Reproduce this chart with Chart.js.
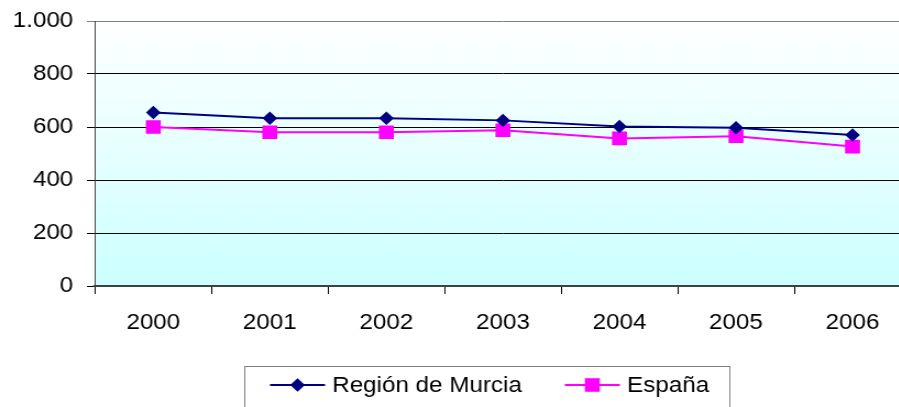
<!DOCTYPE html>
<html>
<head>
<meta charset="utf-8">
<script src="https://cdn.jsdelivr.net/npm/chart.js@4/dist/chart.umd.min.js"></script>
<style>
html,body{margin:0;padding:0;overflow:hidden;background:#fff;width:899px;height:407px;}
#wrap{width:829px;height:407px;position:relative;transform:scaleX(1.1);transform-origin:0 0;}
</style>
</head>
<body>
<div id="wrap"><canvas id="c" width="829" height="407"></canvas></div>
<script>
const categories = ['2000','2001','2002','2003','2004','2005','2006'];
const murcia = [655, 633, 633, 625, 602, 597, 570];
const espana = [600, 580, 580, 588, 557, 565, 526];
const seriesNames = ['Región de Murcia', 'España'];
const yTicks = [0, 200, 400, 600, 800, 1000];
const yTickLabels = ['0', '200', '400', '600', '800', '1.000'];

const FONT = '"Liberation Sans", Arial, sans-serif';

const bgPlugin = {
  id: 'bg',
  beforeDraw(chart) {
    const {ctx, chartArea: a} = chart;
    const g = ctx.createLinearGradient(0, a.top, 0, a.bottom);
    g.addColorStop(0, '#FFFFFF');
    g.addColorStop(1, '#CCFFFF');
    ctx.save();
    ctx.fillStyle = g;
    ctx.fillRect(a.left, a.top, a.right - a.left, a.bottom - a.top);
    ctx.restore();
  }
};

const legendPlugin = {
  id: 'boxLegend',
  afterDraw(chart) {
    const ctx = chart.ctx;
    ctx.save();
    ctx.strokeStyle = '#808080';
    ctx.lineWidth = 1;
    ctx.strokeRect(222.5, 366.5, 441, 60);
    const items = [
      {x0: 245.5, x1: 295.5, tx: 302},
      {x0: 513.5, x1: 563.5, tx: 570}
    ];
    const y = 385;
    chart.data.datasets.forEach((ds, i) => {
      const it = items[i];
      ctx.strokeStyle = ds.borderColor;
      ctx.lineWidth = 2;
      ctx.beginPath();
      ctx.moveTo(it.x0, y);
      ctx.lineTo(it.x1, y);
      ctx.stroke();
      ctx.fillStyle = ds.pointBackgroundColor;
      ctx.strokeStyle = ds.pointBackgroundColor;
      Chart.helpers.drawPoint(ctx, {pointStyle: ds.pointStyle, radius: ds.pointRadius, borderWidth: 0}, (it.x0 + it.x1) / 2, y);
      ctx.fillStyle = '#000';
      ctx.font = '22px ' + FONT;
      ctx.textBaseline = 'middle';
      ctx.textAlign = 'left';
      ctx.fillText(ds.label, it.tx, y + 1);
    });
    ctx.restore();
  }
};

new Chart(document.getElementById('c'), {
  type: 'line',
  data: {
    labels: categories,
    datasets: [
      {
        label: seriesNames[0],
        data: murcia,
        borderColor: '#000080',
        backgroundColor: '#000080',
        pointBackgroundColor: '#000080',
        pointBorderColor: '#000080',
        pointBorderWidth: 0,
        pointStyle: 'rectRot',
        pointRadius: 6.7,
        borderWidth: 2,
        tension: 0
      },
      {
        label: seriesNames[1],
        data: espana,
        borderColor: '#FF00FF',
        backgroundColor: '#FF00FF',
        pointBackgroundColor: '#FF00FF',
        pointBorderColor: '#FF00FF',
        pointBorderWidth: 0,
        pointStyle: 'rect',
        pointRadius: 9.6,
        borderWidth: 2,
        tension: 0
      }
    ]
  },
  options: {
    responsive: false,
    animation: false,
    devicePixelRatio: 1,
    layout: {autoPadding: false, padding: {top: 21, left: 0, right: 1, bottom: 61}},
    plugins: {legend: {display: false}, tooltip: {enabled: false}},
    scales: {
      x: {
        offset: true,
        grid: {offset: true, drawOnChartArea: false, drawTicks: true, tickLength: 8, color: '#000', lineWidth: 1},
        border: {display: true, color: '#404040', width: 2},
        ticks: {font: {family: FONT, size: 22}, color: '#000', padding: 16, maxRotation: 0},
        afterFit(s) { s.height = 60; s.paddingLeft = 0; s.paddingRight = 0; }
      },
      y: {
        min: 0, max: 1000,
        afterBuildTicks(s) { s.ticks = yTicks.map(v => ({value: v})); },
        grid: {
          drawTicks: true, tickLength: 7.3, lineWidth: 1,
          color: (c) => (c.tick && c.tick.value === 1000) ? '#808080' : '#000'
        },
        border: {display: true, color: '#404040', width: 1},
        ticks: {
          font: {family: FONT, size: 22}, color: '#000', padding: 12.5,
          callback: (v) => yTickLabels[yTicks.indexOf(v)]
        },
        afterFit(s) { s.width = 86.4; s.paddingTop = 0; s.paddingBottom = 0; }
      }
    }
  },
  plugins: [bgPlugin, legendPlugin]
});
</script>
</body>
</html>
